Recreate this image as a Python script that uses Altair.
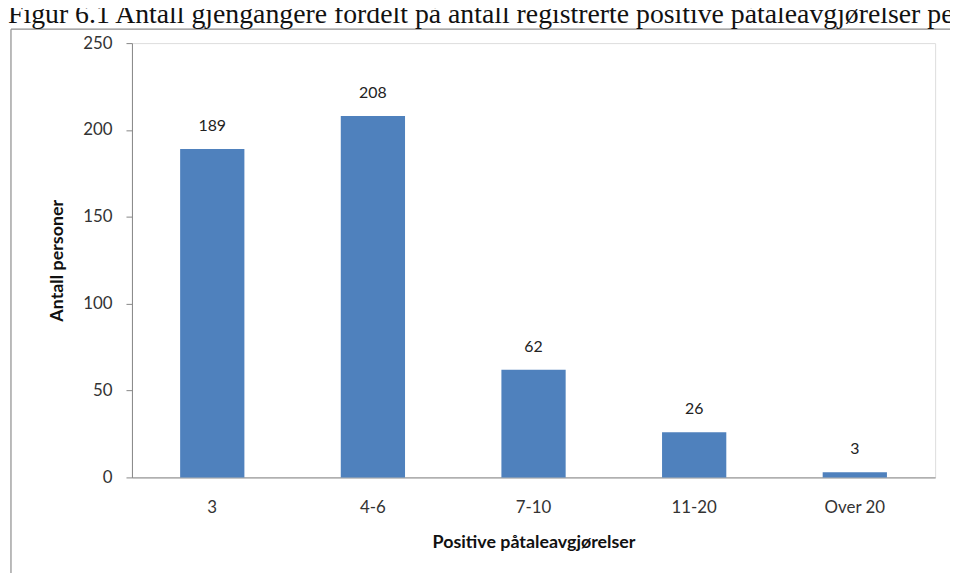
import altair as alt
import pandas as pd

categories = ["3", "4-6", "7-10", "11-20", "Over 20"]
counts = [189, 208, 62, 26, 3]
y_ticks = [0, 50, 100, 150, 200, 250]

title_text = "Figur 6.1 Antall gjengangere fordelt på antall registrerte positive påtaleavgjørelser per person"
x_title = "Positive påtaleavgjørelser"
y_title = "Antall personer"

df = pd.DataFrame({"kategori": categories, "antall": counts})

W, H = 810, 438
PAD = {"left": 125, "top": 33, "right": 15, "bottom": 94}

x_enc = alt.X(
    "kategori:N",
    sort=categories,
    scale=alt.Scale(paddingInner=0.6, paddingOuter=0.3),
    axis=alt.Axis(
        title=x_title,
        labelAngle=0,
        ticks=False,
        labelPadding=22,
        labelFont="Lato",
        labelFontSize=17,
        labelColor="#333333",
        domainColor="#868686",
        domainWidth=1,
        titleFont="Lato",
        titleFontSize=18,
        titleFontWeight="bold",
        titleColor="#111111",
        titleX=405,
        titleY=66,
        titleBaseline="middle",
        titleAnchor="middle",
    ),
)
y_enc = alt.Y(
    "antall:Q",
    scale=alt.Scale(domain=[0, 250], nice=False),
    axis=alt.Axis(
        title=y_title,
        values=y_ticks,
        grid=False,
        tickSize=6,
        tickColor="#868686",
        domainColor="#868686",
        labelPadding=14,
        labelFont="Lato",
        labelFontSize=17,
        labelColor="#333333",
        titleFont="Lato",
        titleFontSize=18,
        titleFontWeight="bold",
        titleColor="#111111",
        titleX=-75,
        titleY=219,
        titleAngle=-90,
        titleBaseline="middle",
        titleAlign="center",
    ),
)

base = alt.Chart(df)
bars = base.mark_bar(color="#4F81BD").encode(x=x_enc, y=y_enc)
labels = base.mark_text(
    font="Lato", fontSize=16, color="#222222", baseline="alphabetic", dy=-18
).encode(x=alt.X("kategori:N", sort=categories), y="antall:Q", text="antall:Q")

one = alt.Data(values=[{"a": 1}])
frame_left = alt.Chart(one).mark_rule(color="#8c8c8c", strokeWidth=1.2).encode(
    x=alt.value(-122), y=alt.value(-14), y2=alt.value(540)
)
frame_top = alt.Chart(one).mark_rule(color="#8c8c8c", strokeWidth=1.2).encode(
    x=alt.value(-122), x2=alt.value(830), y=alt.value(-14)
)
fig_title = alt.Chart(one).mark_text(
    text=title_text,
    font="Liberation Serif",
    fontSize=28,
    color="#111111",
    align="left",
    baseline="alphabetic",
).encode(x=alt.value(-125), y=alt.value(-20))

chart = (
    alt.layer(bars, labels, frame_left, frame_top, fig_title)
    .properties(width=W, height=H, autosize=alt.AutoSizeParams(type="none"), padding=PAD)
    .configure_view(stroke=None)
    .configure(background="white")
)

chart.save("out.html", embed_options={"renderer": "svg", "actions": False})
